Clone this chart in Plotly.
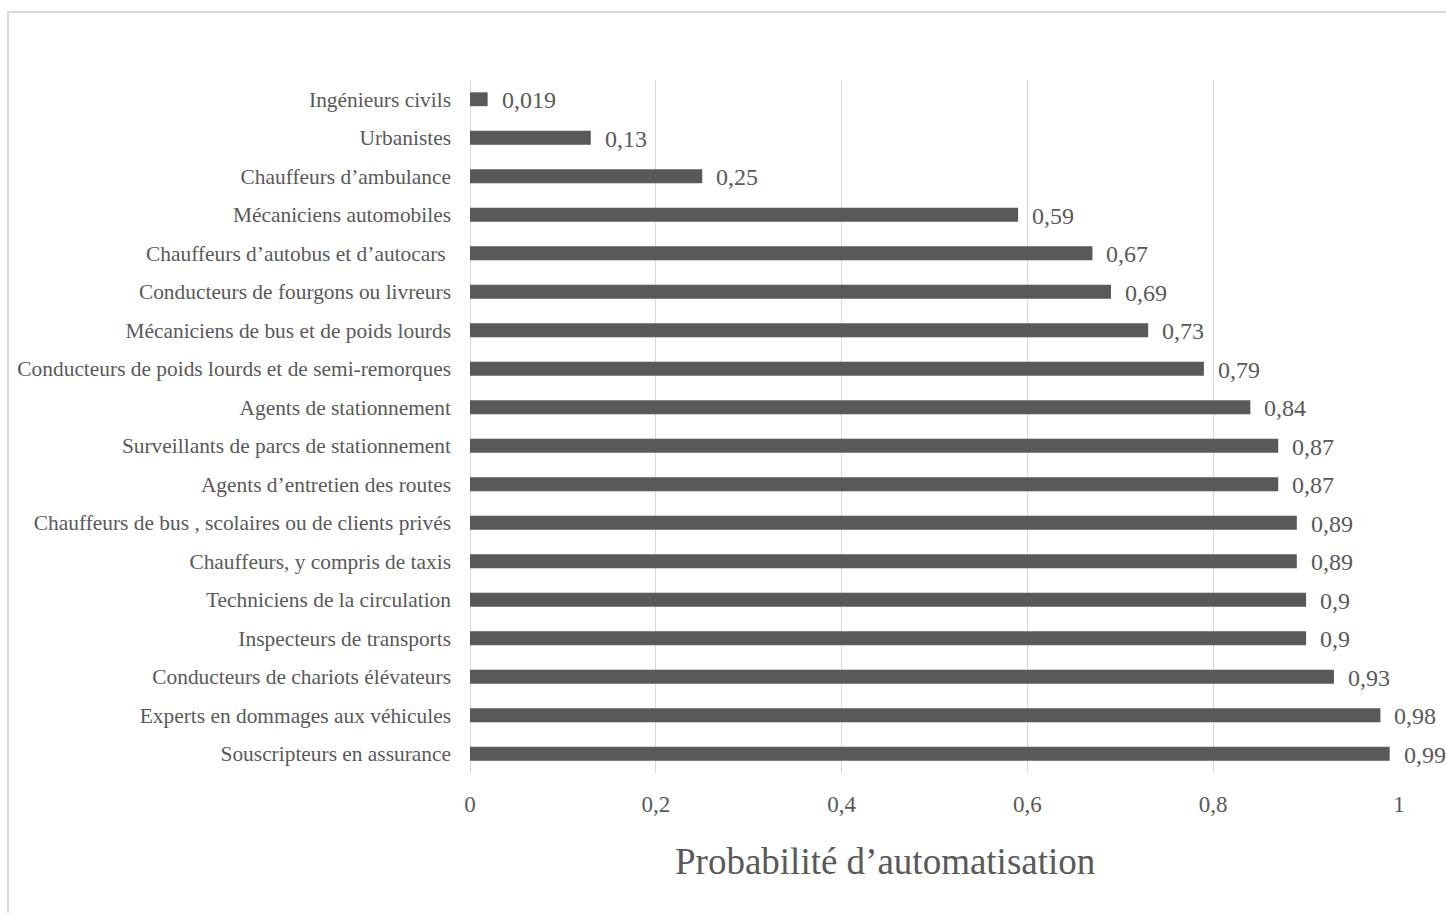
import plotly.graph_objects as go

# Occupations (top to bottom) and their automation probability
occupations = [
    "Ingénieurs civils",
    "Urbanistes",
    "Chauffeurs d’ambulance",
    "Mécaniciens automobiles",
    "Chauffeurs d’autobus et d’autocars\u00a0",
    "Conducteurs de fourgons ou livreurs",
    "Mécaniciens de bus et de poids lourds",
    "Conducteurs de poids lourds et de semi-remorques",
    "Agents de stationnement",
    "Surveillants de parcs de stationnement",
    "Agents d’entretien des routes",
    "Chauffeurs de bus , scolaires ou de clients privés",
    "Chauffeurs, y compris de taxis",
    "Techniciens de la circulation",
    "Inspecteurs de transports",
    "Conducteurs de chariots élévateurs",
    "Experts en dommages aux véhicules",
    "Souscripteurs en assurance",
]
probabilities = [0.019, 0.13, 0.25, 0.59, 0.67, 0.69, 0.73, 0.79, 0.84,
                 0.87, 0.87, 0.89, 0.89, 0.9, 0.9, 0.93, 0.98, 0.99]
value_labels = ["0,019", "0,13", "0,25", "0,59", "0,67", "0,69", "0,73", "0,79",
                "0,84", "0,87", "0,87", "0,89", "0,89", "0,9", "0,9", "0,93",
                "0,98", "0,99"]

x_tick_values = [0, 0.2, 0.4, 0.6, 0.8, 1]
x_tick_labels = ["0", "0,2", "0,4", "0,6", "0,8", "1"]
axis_title = "Probabilité d’automatisation"

FONT = "Liberation Serif"
TEXT_GREY = "#595959"
BAR_GREY = "#595959"
GRID_GREY = "#d9d9d9"

W, H = 1446, 913
M_L, M_R, M_T, M_B = 470, 47, 80, 140
plot_w = W - M_L - M_R
plot_h = H - M_T - M_B

fig = go.Figure()
fig.add_trace(go.Bar(
    x=probabilities,
    y=occupations,
    orientation="h",
    marker=dict(color=BAR_GREY, line=dict(width=0)),
    width=0.36,
    hoverinfo="x+y",
))

# value labels to the right of each bar
for occ, val, lab in zip(occupations, probabilities, value_labels):
    fig.add_annotation(
        x=val, y=occ, xref="x", yref="y",
        text=lab, showarrow=False,
        xanchor="left", yanchor="middle",
        xshift=12, yshift=-1,
        font=dict(family=FONT, size=24, color=TEXT_GREY),
    )

# axis title below the tick labels
fig.add_annotation(
    x=(885 - M_L) / plot_w, y=-(862 - (M_T + plot_h)) / plot_h,
    xref="paper", yref="paper",
    text=axis_title, showarrow=False,
    xanchor="center", yanchor="middle",
    font=dict(family=FONT, size=37, color=TEXT_GREY),
)

# light outer frame of the chart area
fig.add_shape(
    type="rect", xref="paper", yref="paper",
    x0=(8 - M_L) / plot_w, x1=(W + 20 - M_L) / plot_w,
    y0=-(H + 20 - M_T - plot_h) / plot_h, y1=(M_T + plot_h - 12) / plot_h,
    line=dict(color=GRID_GREY, width=2),
    fillcolor="rgba(0,0,0,0)",
    layer="below",
)

fig.update_xaxes(
    range=[0, 1],
    tickvals=x_tick_values,
    ticktext=x_tick_labels,
    showgrid=True, gridcolor=GRID_GREY, gridwidth=1,
    zeroline=True, zerolinecolor=GRID_GREY, zerolinewidth=1,
    showline=False,
    ticks="",
    ticklabelstandoff=15,
    tickfont=dict(family=FONT, size=23, color=TEXT_GREY),
    fixedrange=True,
)
fig.update_yaxes(
    categoryorder="array",
    categoryarray=occupations,
    autorange="reversed",
    showgrid=False,
    showline=False,
    ticks="",
    ticklabelstandoff=18,
    tickfont=dict(family=FONT, size=21.4, color=TEXT_GREY),
    fixedrange=True,
)

fig.update_layout(
    width=W, height=H,
    margin=dict(l=M_L, r=M_R, t=M_T, b=M_B, autoexpand=False),
    paper_bgcolor="white",
    plot_bgcolor="white",
    showlegend=False,
    bargap=0.64,
    font=dict(family=FONT, color=TEXT_GREY),
)

fig.write_html("out.html", config={"displayModeBar": False})
